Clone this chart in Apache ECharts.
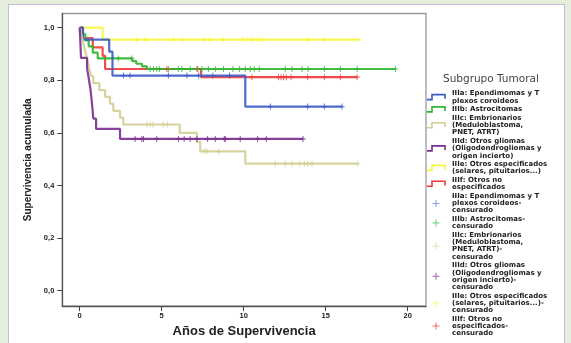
<!DOCTYPE html>
<html>
<head>
<meta charset="utf-8">
<script src="https://cdn.jsdelivr.net/npm/echarts@6/dist/echarts.min.js"></script>
<style>
html,body{margin:0;padding:0;width:571px;height:343px;overflow:hidden;background:#e4eedb;}
#panel{position:absolute;left:8px;top:4px;width:557px;height:360px;background:#fff;border:1.5px solid #c9b8e2;box-sizing:border-box;}
#chart{position:absolute;left:0;top:0;width:571px;height:343px;}
</style>
</head>
<body>
<div id="panel"></div>
<div id="chart"></div>
<script>
// ---- Data ----
const groupNames = [
  'IIIa: Ependimomas y T\nplexos coroideos',
  'IIIb: Astrocitomas',
  'IIIc: Embrionarios\n(Meduloblastoma,\nPNET, ATRT)',
  'IIId: Otros gliomas\n(Oligodendrogliomas y\norigen incierto)',
  'IIIe: Otros especificados\n(selares, pituitarios...)',
  'IIIf: Otros no\nespecificados'
];
const censorNames = [
  'IIIa: Ependimomas y T\nplexos coroideos-\ncensurado',
  'IIIb: Astrocitomas-\ncensurado',
  'IIIc: Embrionarios\n(Meduloblastoma,\nPNET, ATRT)-\ncensurado',
  'IIId: Otros gliomas\n(Oligodendrogliomas y\norigen incierto)-\ncensurado',
  'IIIe: Otros especificados\n(selares, pituitarios...)-\ncensurado',
  'IIIf: Otros no\nespecificados-\ncensurado'
];
const xTicks = [0, 5, 10, 15, 20];
const yTicks = [0, 0.2, 0.4, 0.6, 0.8, 1.0];

// Kaplan-Meier step times and survival values
const timeA = [0, 0.2, 1.8, 2.0, 10.1, 16.0];
const survA = [1, 0.955, 0.909, 0.818, 0.70, 0.70];
const censA = [2.67, 3.07, 5.41, 6.54, 7.25, 8.12, 9.14, 11.63, 13.9, 14.92, 16.0];

const timeB = [0, 0.1, 0.35, 0.55, 0.8, 1.1, 3.2, 3.45, 3.8, 4.1, 19.26];
const survB = [1, 0.976, 0.952, 0.929, 0.905, 0.883, 0.873, 0.863, 0.853, 0.843, 0.843];
const censB = [2.36, 3.18, 4.29, 4.5, 4.7, 4.86, 5.41, 6.02, 6.23, 6.74, 7.15, 7.45, 7.85, 8.27, 8.77, 9.35, 9.75, 10.1, 10.4, 10.65, 10.95, 12.54, 12.95, 13.56, 13.93, 14.92, 15.9, 16.92, 19.26];

const timeC = [0, 0.1, 0.2, 0.3, 0.4, 0.5, 0.6, 0.7, 0.83, 1.2, 1.55, 1.85, 2.05, 2.46, 2.66, 6.1, 7.15, 7.35, 10.1, 16.96];
const survC = [1, 0.974, 0.947, 0.921, 0.895, 0.868, 0.842, 0.816, 0.789, 0.763, 0.737, 0.711, 0.684, 0.658, 0.632, 0.60, 0.566, 0.53, 0.483, 0.483];
const censC = [4.09, 4.29, 4.46, 5.1, 5.35, 7.6, 7.76, 8.47, 11.93, 12.54, 12.95, 13.42, 13.7, 13.9, 14.17, 16.96];

const timeD = [0, 0.03, 0.08, 0.45, 0.55, 0.65, 0.72, 0.78, 0.83, 1.0, 2.46, 13.62];
const survD = [1, 0.962, 0.885, 0.846, 0.808, 0.769, 0.731, 0.692, 0.654, 0.615, 0.577, 0.577];
const censD = [3.38, 3.79, 3.89, 4.7, 6.02, 6.37, 6.74, 7.15, 7.8, 8.27, 8.82, 8.88, 9.79, 10.85, 11.38, 13.62];

const timeE = [0, 1.4, 17.0];
const survE = [1, 0.955, 0.955];
const censE = [3.48, 3.99, 5.72, 6.23, 7.55, 7.96, 8.77, 9.96, 10.2, 10.5, 10.85, 11.1, 13.9, 14.92, 17.0];

const timeF = [0, 0.2, 0.8, 1.4, 1.55, 7.4, 16.92];
const survF = [1, 0.96, 0.925, 0.893, 0.843, 0.812, 0.812];
const censF = [5.32, 7.2, 10.5, 12.13, 12.28, 12.44, 12.6, 12.89, 13.9, 14.92, 15.9, 16.92];

const lineColors = ['#3a5bc4', '#2fb52f', '#d3ce93', '#7a2c8e', '#f6f640', '#f03a3a'];
const censColors = ['#6f82e2', '#3ccb3c', '#dcd8a6', '#8b3d9e', '#f7f763', '#f04848'];

// ---- Build series ----
const times = [timeA, timeB, timeC, timeD, timeE, timeF];
const survs = [survA, survB, survC, survD, survE, survF];
const cens = [censA, censB, censC, censD, censE, censF];

function survAt(t, ts, ss) {
  let v = ss[0];
  for (let i = 0; i < ts.length; i++) { if (ts[i] <= t) v = ss[i]; }
  return v;
}

const stepIcon = 'path://M0,5.2 H4.2 V0.2 H18.8 V5.2 H17.2 V1.8 H5.8 V6.8 H0 Z M19.99,6.99 H20 V7 H19.99 Z';
const plusIcon = 'path://M0,0 H0.01 V0.01 H0 Z M19.99,6.99 H20 V7 H19.99 Z M8.5,0 H9.5 V3 H12.5 V4 H9.5 V7 H8.5 V4 H5.5 V3 H8.5 Z';
const plusSymbol = 'path://M2,0 H3 V2 H5 V3 H3 V5 H2 V3 H0 V2 H2 Z';

const series = [];
const drawOrder = [4, 5, 1, 0, 2, 3];
drawOrder.forEach(function (g) {
  series.push({
    name: groupNames[g], type: 'line', step: 'end', showSymbol: false,
    color: lineColors[g],
    lineStyle: { width: 2.2, color: lineColors[g], opacity: 0.9 },
    data: times[g].map(function (t, i) { return [t, survs[g][i]]; }),
    animation: false, z: 2
  });
});
for (let g = 0; g < 6; g++) {
  series.push({
    name: censorNames[g], type: 'scatter',
    symbol: plusSymbol, symbolSize: [5, 6],
    color: censColors[g],
    itemStyle: { color: lineColors[g] },
    data: cens[g].map(function (t) { return [t, survAt(t, times[g], survs[g])]; }),
    animation: false, z: 3
  });
}

const legendData = [];
for (let g = 0; g < 6; g++) legendData.push({ name: groupNames[g], icon: stepIcon, itemStyle: { color: lineColors[g] } });
for (let g = 0; g < 6; g++) legendData.push({ name: censorNames[g], icon: plusIcon, itemStyle: { color: censColors[g] } });

const chart = echarts.init(document.getElementById('chart'), null, { renderer: 'canvas' });
const font = 'Liberation Sans, Arial, sans-serif';
const legendFont = 'DejaVu Sans, Liberation Sans, sans-serif';
chart.setOption({
  animation: false,
  textStyle: { fontFamily: font },
  title: {
    text: 'Subgrupo Tumoral', left: 443, top: 74, padding: 0,
    textStyle: { fontSize: 10.5, fontWeight: 'normal', color: '#444', fontFamily: legendFont }
  },
  legend: {
    orient: 'vertical', left: 427, top: 90, padding: 0, itemGap: 1.5,
    itemWidth: 20, itemHeight: 7, selectedMode: false,
    textStyle: { fontSize: 7, fontWeight: 'bold', color: '#222', lineHeight: 7.2, fontFamily: legendFont },
    data: legendData
  },
  grid: {
    left: 62.3, right: 145, top: 13.5, bottom: 31.3,
    show: true, borderColor: '#9a9a9a', borderWidth: 1.3, backgroundColor: 'transparent'
  },
  xAxis: {
    type: 'value', min: -1.06, max: 21.12,
    axisLine: { show: true, onZero: false, lineStyle: { color: '#555', width: 1.3 } },
    splitLine: { show: false },
    axisTick: { show: true, length: 5, customValues: xTicks, lineStyle: { color: '#444', width: 1 } },
    axisLabel: { customValues: xTicks, fontSize: 7.5, fontWeight: 'bold', color: '#222', margin: 6, fontFamily: font },
    name: 'Años de Supervivencia', nameLocation: 'middle', nameGap: 18,
    nameTextStyle: { fontSize: 13, fontWeight: 'bold', color: '#222', fontFamily: font }
  },
  yAxis: {
    type: 'value', min: -0.0586, max: 1.054,
    axisLine: { show: true, onZero: false, lineStyle: { color: '#555', width: 1.3 } },
    splitLine: { show: false },
    axisTick: { show: true, length: 5, customValues: yTicks, lineStyle: { color: '#444', width: 1 } },
    axisLabel: { customValues: yTicks, fontSize: 7.5, fontWeight: 'bold', color: '#222', margin: 8, fontFamily: font,
      formatter: function (v) { return v.toFixed(1).replace('.', ','); } },
    name: 'Supervivencia acumulada', nameLocation: 'middle', nameGap: 22,
    nameTextStyle: { fontSize: 10, fontWeight: 'bold', color: '#222', fontFamily: font }
  },
  series: series
});
</script>
</body>
</html>
